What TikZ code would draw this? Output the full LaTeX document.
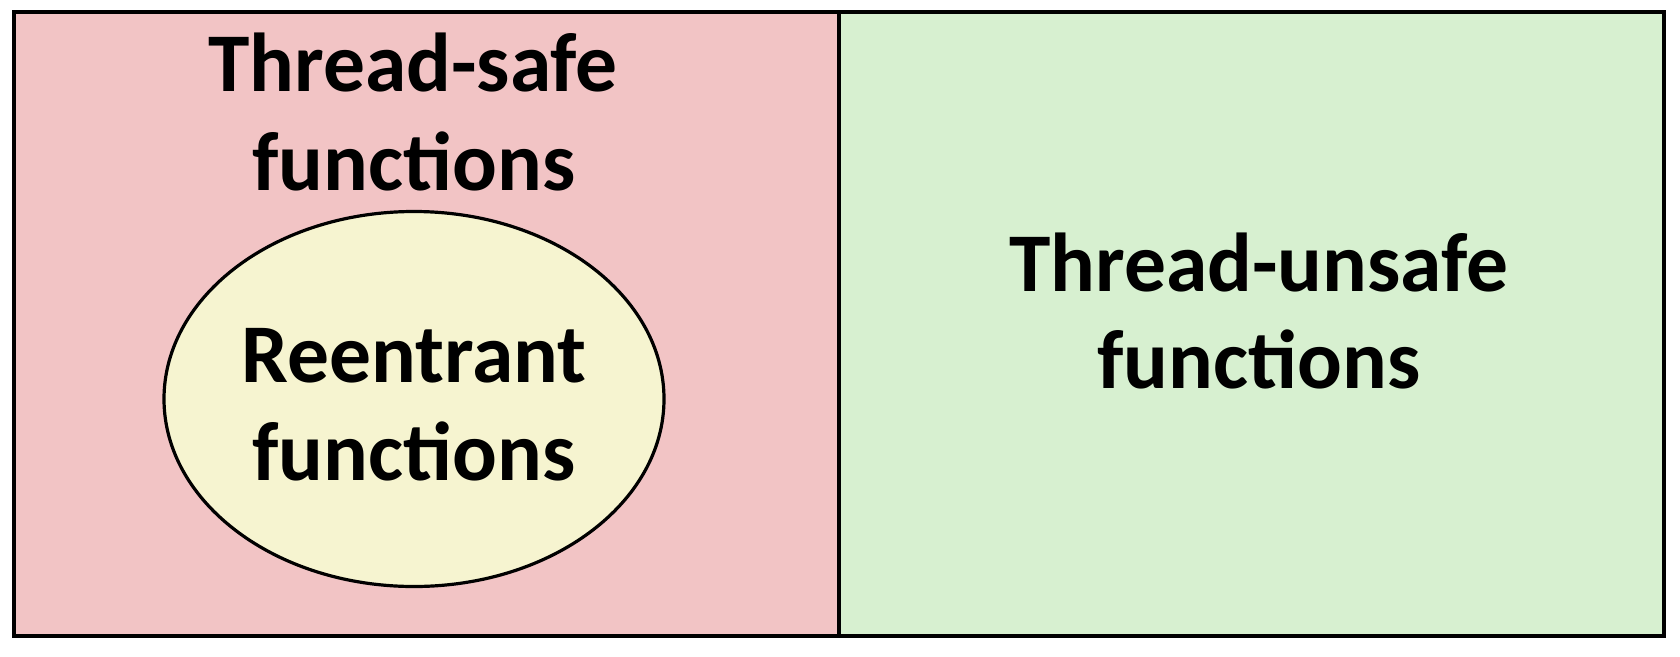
\documentclass[tikz,border=0pt]{standalone}
\usepackage{fontspec}
\usetikzlibrary{shapes.geometric}
\setmainfont{Carlito}
\definecolor{safepink}{RGB}{242,196,197}
\definecolor{unsafegreen}{RGB}{215,240,208}
\definecolor{reyellow}{RGB}{246,244,208}
\begin{document}
\begin{tikzpicture}[x=1pt,y=-1pt,
  lbl/.style={anchor=base,inner sep=0pt,font=\fontsize{83.5}{100}\selectfont\bfseries},
  panel/.style={draw=black,line width=4pt}]
\useasboundingbox (0,0) rectangle (1680,656);
\path[fill=safepink] (14,12) rectangle (839,636);
\path[fill=unsafegreen] (839,12) rectangle (1664,636);
\node[draw=black,line width=3.2pt,fill=reyellow,ellipse,minimum width=500pt,minimum height=375pt,inner sep=0pt] (re) at (414,399) {};
\draw[panel] (14,12) rectangle (1664,636);
\draw[panel] (839,12) -- (839,636);
\node[lbl] (ts1) at (413,91) {Thread-safe};
\node[lbl] (ts2) at (414,190) {functions};
\node[lbl] (re1) at (414,382) {Reentrant};
\node[lbl] (re2) at (414,480) {functions};
\node[lbl] (tu1) at (1259,291) {Thread-unsafe};
\node[lbl] (tu2) at (1259,388) {functions};
\end{tikzpicture}
\end{document}
